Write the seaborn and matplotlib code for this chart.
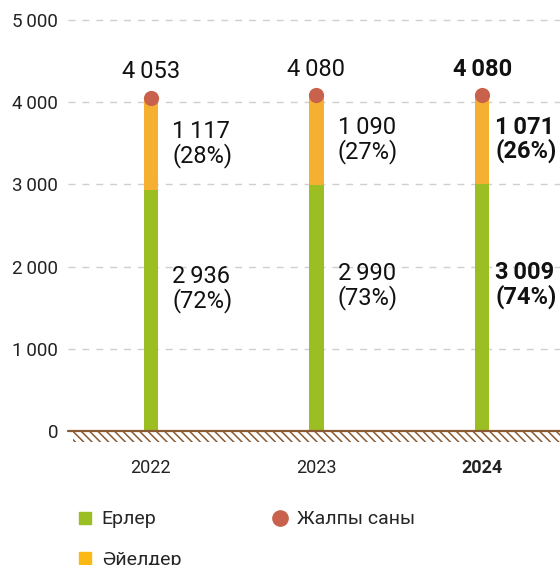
import matplotlib
matplotlib.use("Agg")
import matplotlib.pyplot as plt
from matplotlib.patches import Rectangle
from matplotlib.lines import Line2D
from matplotlib.ticker import FuncFormatter
import seaborn as sns
import numpy as np

# data
years = ["2022", "2023", "2024"]
men = [2936, 2990, 3009]
women = [1117, 1090, 1071]
totals = [4053, 4080, 4080]
men_pct = [72, 73, 74]
women_pct = [28, 27, 26]
legend_labels = ["Ерлер", "Әйелдер", "Жалпы саны"]

green = "#9bbf22"
orange = "#f5b031"
red = "#c8624c"
brown = "#8a5a32"
grid_col = "#cfcfcf"

sns.set_style("white")
plt.rcParams["font.family"] = ["Roboto", "DejaVu Sans"]
plt.rcParams["hatch.linewidth"] = 1.1


def fmt(v):
    return f"{int(v):,}".replace(",", "\u2009")


fig = plt.figure(figsize=(5.6, 5.65), dpi=100)
ax = fig.add_axes([68 / 560, 1 - 431 / 565, 1 - 68 / 560, (431 - 19) / 565])

x = np.arange(len(years))

# stacked bars: total in orange, men drawn over it in green
sns.barplot(x=years, y=totals, color=orange, width=0.085, saturation=1,
            linewidth=0, ax=ax, zorder=3)
sns.barplot(x=years, y=men, color=green, width=0.085, saturation=1,
            linewidth=0, ax=ax, zorder=3)
ax.scatter(x, totals, s=120, color=red, zorder=5, linewidths=0)

ax.set_xlim(-0.5, 2.47)
ax.set_ylim(0, 5010)
ax.set_yticks(range(0, 5001, 1000))
ax.yaxis.set_major_formatter(FuncFormatter(lambda v, p: fmt(v)))
ax.grid(axis="y", color=grid_col, linestyle=(0, (5, 5)), linewidth=1, zorder=0)
ax.set_axisbelow(True)
for s in ax.spines.values():
    s.set_visible(False)
ax.tick_params(axis="y", length=0, pad=7, labelsize=13.5, colors="#222222")
ax.tick_params(axis="x", length=0, pad=20, labelsize=13, colors="#222222")
ax.set_xlabel("")
ax.set_ylabel("")
ax.get_xticklabels()[-1].set_fontweight("bold")

# ground line with hatching
ax.axhline(0, color=brown, lw=1.6, zorder=4, clip_on=False)
ax.add_patch(Rectangle((-0.47, -0.027), 2.94, 0.027, transform=ax.get_xaxis_transform(),
                       facecolor="none", edgecolor=brown, linewidth=0,
                       hatch="\\\\\\\\", clip_on=False, zorder=4))

# labels
for i in range(len(years)):
    bold = i == len(years) - 1
    fw = "bold" if bold else "normal"
    dx = 0.08 if bold else 0.128
    ax.text(x[i], totals[i] + 320, fmt(totals[i]), ha="center", va="center",
            fontsize=17, fontweight=fw, color="#111111")
    ax.text(x[i] + dx, men[i] + women[i] / 2, f"{fmt(women[i])}\n({women_pct[i]}%)",
            ha="left", va="center", fontsize=17, fontweight=fw, color="#111111",
            linespacing=1.0, clip_on=False)
    ax.text(x[i] + dx, men[i] * 0.59, f"{fmt(men[i])}\n({men_pct[i]}%)",
            ha="left", va="center", fontsize=17, fontweight=fw, color="#111111",
            linespacing=1.0, clip_on=False)

handles = [
    Line2D([], [], marker="s", linestyle="none", markersize=9, color=green),
    Line2D([], [], marker="s", linestyle="none", markersize=9, color="#fdb913"),
    Line2D([], [], marker="o", linestyle="none", markersize=11, color=red),
]
fig.legend(handles, legend_labels, ncol=2, loc="upper left",
           bbox_to_anchor=(58 / 560, 1 - 493 / 565), frameon=False,
           fontsize=14, handletextpad=0.35, handlelength=1.0,
           labelspacing=1.15, columnspacing=4.6)

fig.savefig("out.png", dpi=100)
